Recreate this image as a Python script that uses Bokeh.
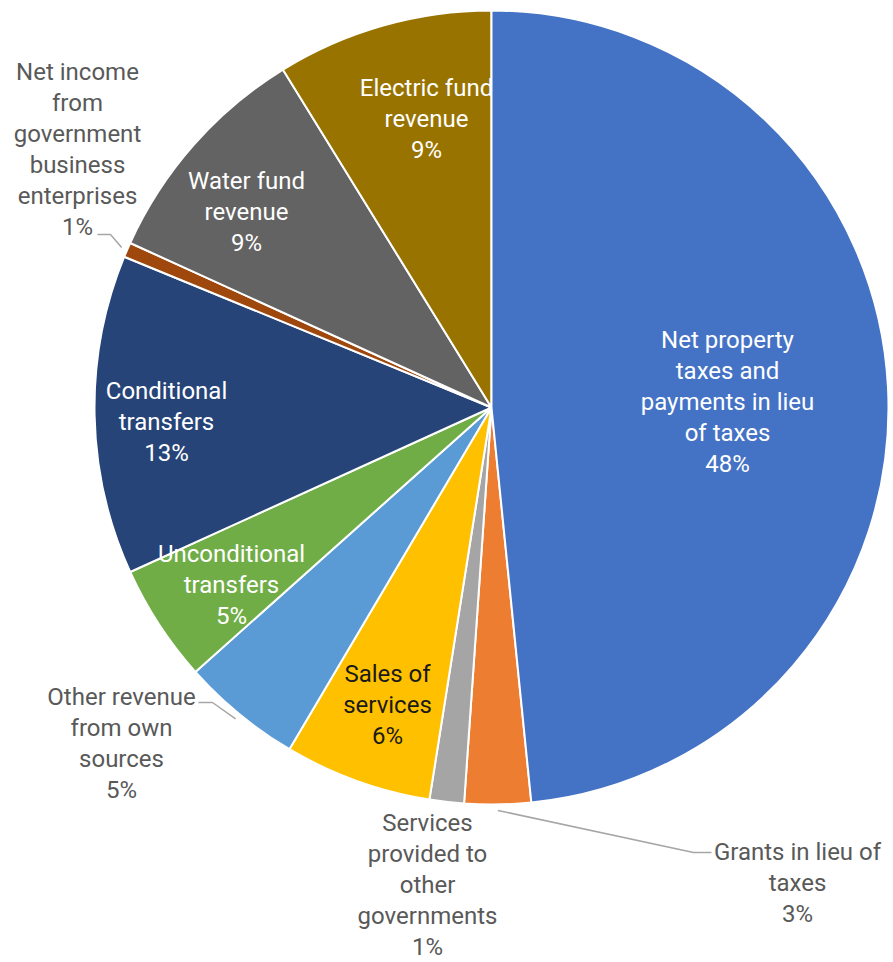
import math
from bokeh.plotting import figure
from bokeh.models import ColumnDataSource, Range1d, CDSView, IndexFilter
from bokeh.core.properties import value
from bokeh.embed import file_html
from bokeh.resources import INLINE

# ---------------- data ----------------
categories = [
    "Net property taxes and payments in lieu of taxes",
    "Grants in lieu of taxes",
    "Services provided to other governments",
    "Sales of services",
    "Other revenue from own sources",
    "Unconditional transfers",
    "Conditional transfers",
    "Net income from government business enterprises",
    "Water fund revenue",
    "Electric fund revenue",
]
shares = [48.4, 2.7, 1.4, 6.0, 4.9, 4.8, 13.0, 0.6, 9.4, 8.8]
colors = ["#4472C4", "#ED7D31", "#A5A5A5", "#FFC000", "#5B9BD5",
          "#70AD47", "#264478", "#9E480E", "#636363", "#997300"]
label_lines = [
    ["Net property", "taxes and", "payments in lieu", "of taxes"],
    ["Grants in lieu of", "taxes"],
    ["Services", "provided to", "other", "governments"],
    ["Sales of", "services"],
    ["Other revenue", "from own", "sources"],
    ["Unconditional", "transfers"],
    ["Conditional", "transfers"],
    ["Net income", "from", "government", "business", "enterprises"],
    ["Water fund", "revenue"],
    ["Electric fund", "revenue"],
]

# ---------------- layout (picture pixel coordinates) ----------------
W, H = 893, 962
def Y(py):
    return H - py

CX, CY, R = 491, Y(407), 397
label_pos = [(727, 401), (797, 882), (427, 884), (387, 704), (121, 743),
             (231, 584), (166, 421), (77, 149), (246, 211), (426, 118)]
label_color = ["white", "#595959", "#595959", "#1A1A1A", "#595959",
               "white", "white", "#595959", "white", "white"]
# leader lines: index -> (text end point, elbow point)
leaders = {1: ((711, 852), (693, 852)),
           4: ((198, 702), (212, 702)),
           7: ((97, 234), (110, 234))}
FONT = "Roboto"
FS = 24
LH = 31

# ---------------- wedges ----------------
total = sum(shares)
starts, ends, mids = [], [], []
cum = 0.0
for v in shares:
    a0 = math.pi / 2 - 2 * math.pi * cum / total
    cum += v
    a1 = math.pi / 2 - 2 * math.pi * cum / total
    starts.append(a0)
    ends.append(a1)
    mids.append((a0 + a1) / 2)

src = ColumnDataSource(dict(cat=categories, share=shares, color=colors,
                            start=starts, end=ends,
                            x=[CX] * len(shares), y=[CY] * len(shares)))

p = figure(width=W, height=H, output_backend="svg", toolbar_location=None,
           x_range=Range1d(0, W), y_range=Range1d(0, H),
           min_border=0, outline_line_color=None)
p.axis.visible = False
p.grid.visible = False
p.background_fill_color = "white"
p.border_fill_color = "white"


def text_source(indices):
    xs, ys, ts, cs = [], [], [], []
    for i in indices:
        lines = label_lines[i] + [f"{round(shares[i])}%"]
        n = len(lines)
        lx, ly = label_pos[i]
        for k, t in enumerate(lines):
            xs.append(lx)
            ys.append(Y(ly + (k - (n - 1) / 2) * LH))
            ts.append(t)
            cs.append(label_color[i])
    return ColumnDataSource(dict(x=xs, y=ys, text=ts, color=cs))


def add_text(s):
    p.text(x="x", y="y", text="text", source=s, text_color="color",
           text_font=value(FONT), text_font_size=f"{FS}px",
           text_align="center", text_baseline="middle")


wedge_kw = dict(x="x", y="y", radius=R, start_angle="start", end_angle="end",
                direction="clock", fill_color="color", line_color="white",
                line_width=2, source=src)

# all slices except the largest, then the electric label (partly covered by the largest slice)
p.wedge(view=CDSView(filter=IndexFilter(list(range(1, len(shares))))), **wedge_kw)
add_text(text_source([9]))
p.wedge(view=CDSView(filter=IndexFilter([0])), **wedge_kw)

# leader lines
for i, (tend, elbow) in leaders.items():
    ex = CX + (R + 6) * math.cos(mids[i])
    ey = CY + (R + 6) * math.sin(mids[i])
    p.line([tend[0], elbow[0], ex], [Y(tend[1]), Y(elbow[1]), ey],
           line_color="#A6A6A6", line_width=1.5)

add_text(text_source([0, 1, 2, 3, 4, 5, 6, 7, 8]))

open("out.html", "w").write(file_html(p, INLINE))
